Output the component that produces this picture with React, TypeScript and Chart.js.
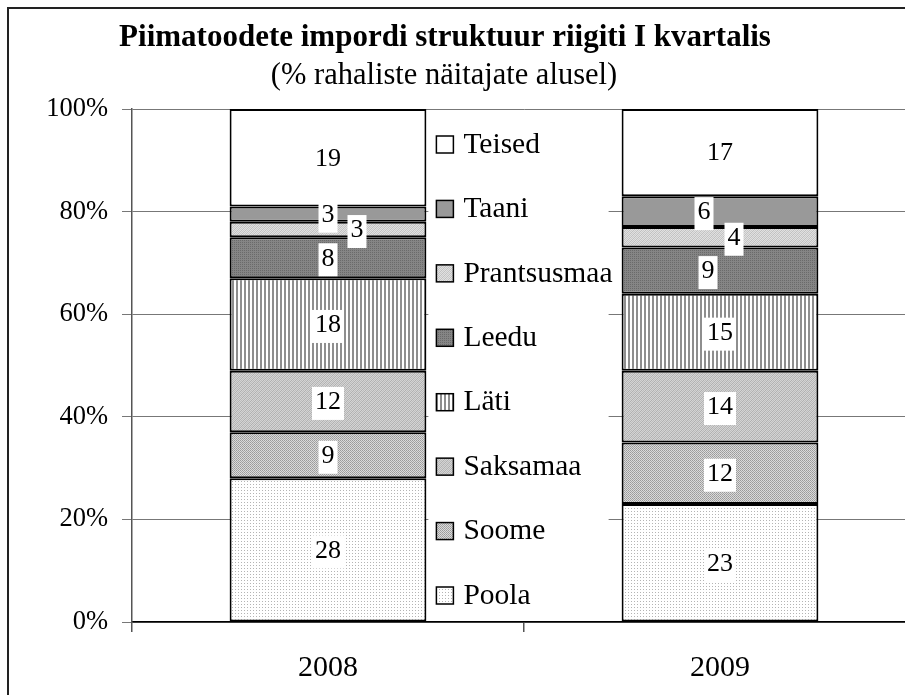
import React, { useEffect, useRef } from "react";
import { Chart, registerables } from "chart.js";

Chart.register(...registerables);

// ---- data ----
const years = ["2008", "2009"];
const seriesNames = ["Poola", "Soome", "Saksamaa", "Läti", "Leedu", "Prantsusmaa", "Taani", "Teised"];
const poola = [28, 23];
const soome = [9, 12];
const saksamaa = [12, 14];
const lati = [18, 15];
const leedu = [8, 9];
const prantsusmaa = [3, 4];
const taani = [3, 6];
const teised = [19, 17];
const yTicks = [0, 20, 40, 60, 80, 100];
const titleText = "Piimatoodete impordi struktuur riigiti I kvartalis";
const subtitleText = "(% rahaliste näitajate alusel)";

const FONT = '"Liberation Serif", "Times New Roman", serif';

// horizontal nudges of crowded value labels (datasetIndex-categoryIndex -> px)
const labelNudge: Record<string, number> = { "5-0": 29, "6-1": -16, "5-1": 14, "4-1": -12 };

type Tile = (g: CanvasRenderingContext2D) => void;

function makePattern(ctx: CanvasRenderingContext2D, w: number, h: number, draw: Tile) {
  const c = document.createElement("canvas");
  c.width = w;
  c.height = h;
  const g = c.getContext("2d")!;
  draw(g);
  return ctx.createPattern(c, "repeat")!;
}

function buildFills(ctx: CanvasRenderingContext2D) {
  const px = (g: CanvasRenderingContext2D, x: number, y: number, col: string) => {
    g.fillStyle = col;
    g.fillRect(x, y, 1, 1);
  };
  const poolaFill = makePattern(ctx, 3, 3, (g) => {
    g.fillStyle = "#ffffff";
    g.fillRect(0, 0, 3, 3);
    px(g, 1, 1, "#b4b4b4");
  });
  const soomeFill = makePattern(ctx, 2, 2, (g) => {
    g.fillStyle = "#dadada";
    g.fillRect(0, 0, 2, 2);
    px(g, 0, 0, "#9a9a9a");
    px(g, 1, 1, "#a6a6a6");
  });
  const saksFill = makePattern(ctx, 4, 4, (g) => {
    g.fillStyle = "#d4d4d4";
    g.fillRect(0, 0, 4, 4);
    for (let i = 0; i < 4; i++) px(g, i, 3 - i, "#b0b0b0");
    for (let i = 0; i < 4; i++) px(g, (i + 2) % 4, 3 - i, "#bcbcbc");
  });
  const latiFill = makePattern(ctx, 4, 4, (g) => {
    g.fillStyle = "#ffffff";
    g.fillRect(0, 0, 4, 4);
    g.fillStyle = "#8e8e8e";
    g.fillRect(0, 0, 2, 4);
  });
  const leeduFill = makePattern(ctx, 2, 2, (g) => {
    g.fillStyle = "#858585";
    g.fillRect(0, 0, 2, 2);
    px(g, 0, 0, "#6a6a6a");
  });
  const prantsFill = makePattern(ctx, 4, 4, (g) => {
    g.fillStyle = "#e0e0e0";
    g.fillRect(0, 0, 4, 4);
    for (let i = 0; i < 4; i++) px(g, i, 3 - i, "#c0c0c0");
    for (let i = 0; i < 4; i++) px(g, (i + 2) % 4, 3 - i, "#cacaca");
  });
  return [poolaFill, soomeFill, saksFill, latiFill, leeduFill, prantsFill, "#999999", "#ffffff"];
}

const titlePlugin = {
  id: "titleFrame",
  afterDraw(chart: any) {
    const ctx: CanvasRenderingContext2D = chart.ctx;
    ctx.save();
    ctx.fillStyle = "#000";
    ctx.textAlign = "center";
    ctx.textBaseline = "alphabetic";
    ctx.font = `bold 31px ${FONT}`;
    ctx.fillText(titleText, 445, 46);
    ctx.font = `30.5px ${FONT}`;
    ctx.fillText(subtitleText, 444, 84);
    ctx.strokeStyle = "#222";
    ctx.lineWidth = 2;
    ctx.strokeRect(8, 8, chart.width + 20, chart.height + 20);
    ctx.restore();
  },
};

const legendPlugin = {
  id: "sideLegend",
  afterDatasetsDraw(chart: any) {
    const ctx: CanvasRenderingContext2D = chart.ctx;
    const area = chart.chartArea;
    const bar0 = chart.getDatasetMeta(0).data[0];
    const bar1 = chart.getDatasetMeta(0).data[1];
    const left = bar0.x + bar0.width / 2 + 2;
    const right = bar1.x - bar1.width / 2 - 13;
    ctx.save();
    ctx.fillStyle = "#ffffff";
    ctx.fillRect(left, area.top + 3, right - left, area.bottom - area.top - 5);
    const ds = chart.data.datasets;
    const n = ds.length;
    const step = (area.bottom - area.top - 62) / (n - 1);
    ctx.font = `29.5px ${FONT}`;
    ctx.textBaseline = "middle";
    ctx.textAlign = "left";
    for (let i = 0; i < n; i++) {
      const d = ds[n - 1 - i];
      const y = area.top + 35 + i * step;
      ctx.fillStyle = d.backgroundColor;
      ctx.fillRect(left + 8, y - 8, 17, 17);
      ctx.strokeStyle = "#000";
      ctx.lineWidth = 1.5;
      ctx.strokeRect(left + 8, y - 8, 17, 17);
      ctx.fillStyle = "#000";
      ctx.fillText(d.label, left + 35, y + 1);
    }
    ctx.restore();
  },
};

const valueLabelPlugin = {
  id: "valueLabels",
  afterDatasetsDraw(chart: any) {
    const ctx: CanvasRenderingContext2D = chart.ctx;
    ctx.save();
    ctx.font = `26px ${FONT}`;
    ctx.textAlign = "center";
    ctx.textBaseline = "middle";
    chart.data.datasets.forEach((d: any, i: number) => {
      const meta = chart.getDatasetMeta(i);
      meta.data.forEach((el: any, j: number) => {
        const v = d.data[j];
        const x = el.x + (labelNudge[`${i}-${j}`] || 0);
        const y = (el.y + el.base) / 2;
        const txt = String(v);
        const w = ctx.measureText(txt).width + 6;
        const h = 33;
        ctx.fillStyle = "#ffffff";
        ctx.fillRect(x - w / 2, y - h / 2 + 2, w, h);
        ctx.fillStyle = "#000";
        ctx.fillText(txt, x, y + 1);
      });
    });
    ctx.restore();
  },
};

export default function App() {
  const ref = useRef<HTMLCanvasElement>(null);
  useEffect(() => {
    const canvas = ref.current!;
    const ctx = canvas.getContext("2d")!;
    const fills = buildFills(ctx);
    const seriesData = [poola, soome, saksamaa, lati, leedu, prantsusmaa, taani, teised];
    const chart = new Chart(canvas, {
      type: "bar",
      data: {
        labels: years,
        datasets: seriesNames.map((name, i) => ({
          label: name,
          data: seriesData[i],
          backgroundColor: fills[i] as any,
          borderColor: "#000",
          borderWidth: 2,
          borderSkipped: false,
          categoryPercentage: 1,
          barPercentage: 0.502,
        })),
      },
      options: {
        responsive: false,
        animation: false,
        devicePixelRatio: 1,
        events: [],
        layout: { padding: { top: 109, right: 14, left: 0, bottom: 0 } },
        plugins: {
          legend: { display: false },
          title: { display: false },
          tooltip: { enabled: false },
        },
        scales: {
          x: {
            stacked: true,
            offset: true,
            grid: {
              offset: true,
              drawOnChartArea: false,
              drawTicks: true,
              tickLength: 10,
              color: "#555",
              lineWidth: 1.5,
            },
            border: { display: true, color: "#000", width: 1.5 },
            ticks: { color: "#000", font: { family: FONT, size: 30 }, padding: 18 },
            afterFit: (s: any) => {
              s.height = 78;
            },
          },
          y: {
            stacked: true,
            min: 0,
            max: 100,
            afterBuildTicks: (s: any) => {
              s.ticks = yTicks.map((v) => ({ value: v }));
            },
            ticks: {
              color: "#000",
              font: { family: FONT, size: 26.5 },
              padding: 14,
              callback: (v: any) => `${v}%`,
            },
            grid: { color: "#777", lineWidth: 1, tickLength: 10, drawTicks: true },
            border: { display: true, color: "#555", width: 1.5 },
            afterFit: (s: any) => {
              s.width = 132;
            },
          },
        },
      },
      plugins: [legendPlugin, valueLabelPlugin, titlePlugin],
    });
    return () => chart.destroy();
  }, []);
  return (
    <div
      style={{
        position: "fixed",
        left: 0,
        top: 0,
        width: 905,
        height: 695,
        overflow: "hidden",
        background: "#fff",
      }}
    >
      <canvas ref={ref} width={930} height={700} style={{ display: "block" }} />
    </div>
  );
}
